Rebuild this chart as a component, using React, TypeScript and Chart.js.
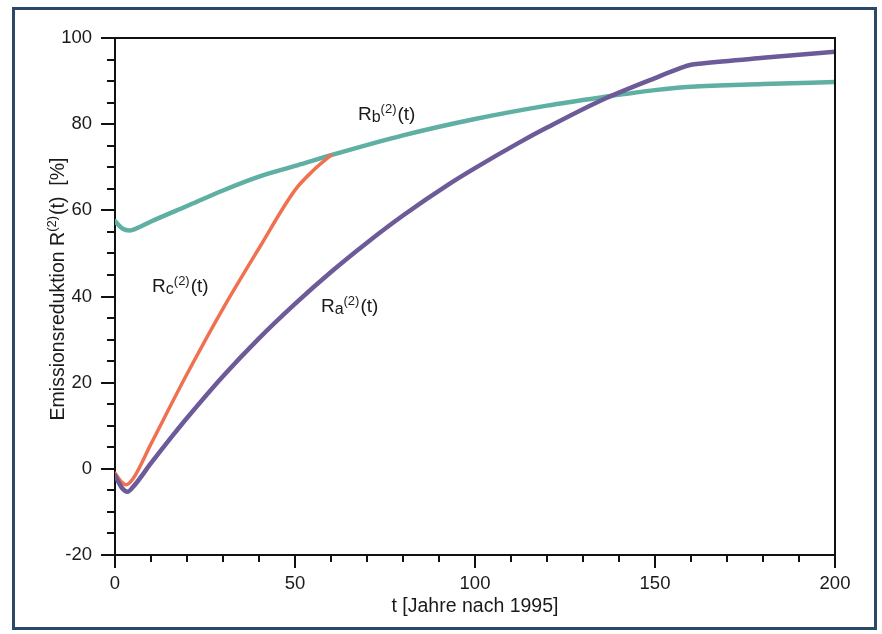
import { useEffect, useRef } from 'react';
import { Chart, registerables } from 'chart.js';
Chart.register(...registerables);

// Ra(2)(t) – purple
const tA = [0, 2, 3.5, 5, 10, 16, 20, 30, 40, 50, 60, 70, 80, 93, 100, 112, 120, 135, 150, 157, 160, 163, 180, 200];
const rA = [-1.5, -4.5, -5.3, -4.2, 1.3, 7.7, 11.8, 21.5, 30.3, 38.3, 45.7, 52.5, 58.8, 66.2, 69.8, 75.6, 79.2, 85.5, 90.7, 93.0, 93.8, 94.1, 95.4, 96.8];
// Rb(2)(t) – teal
const tB = [0, 2, 4, 7, 10, 20, 30, 40, 50, 60, 80, 100, 120, 135, 150, 160, 180, 200];
const rB = [57.5, 55.8, 55.3, 56.2, 57.4, 61, 64.6, 67.8, 70.3, 72.8, 77.4, 81.2, 84.3, 86.2, 87.9, 88.7, 89.3, 89.8];
// Rc(2)(t) – orange
const tC = [0, 2, 3, 5, 10, 20, 30, 40, 50, 55, 60];
const rC = [-1, -3.2, -3.7, -2.3, 5.8, 22, 37.2, 51.2, 64.7, 69.2, 72.8];

const xTickLabels = [0, 50, 100, 150, 200];
const yTickLabels = [-20, 0, 20, 40, 60, 80, 100];

const seriesLabels = [
  { base: 'R', sub: 'b', t: 67.5, v: 81 },
  { base: 'R', sub: 'c', t: 10.3, v: 41 },
  { base: 'R', sub: 'a', t: 57.2, v: 36.4 },
];

const FONT = '"Liberation Sans", Arial, sans-serif';

const pts = (t: number[], r: number[]) => t.map((x, i) => ({ x, y: r[i] }));

export default function App() {
  const ref = useRef<HTMLCanvasElement>(null);
  useEffect(() => {
    document.body.style.margin = '0';
    const deco = {
      id: 'deco',
      beforeDraw(chart: any) {
        const c = chart.ctx;
        c.save();
        c.fillStyle = '#ffffff';
        c.fillRect(0, 0, chart.width, chart.height);
        c.restore();
      },
      afterDraw(chart: any) {
        const c = chart.ctx;
        const a = chart.chartArea;
        const xs = chart.scales.x;
        const ys = chart.scales.y;
        c.save();
        c.strokeStyle = '#111';
        c.lineWidth = 2;
        c.beginPath();
        c.moveTo(a.left, a.top);
        c.lineTo(a.right, a.top);
        c.lineTo(a.right, a.bottom);
        c.stroke();
        // ticks
        c.lineWidth = 2;
        for (let v = -20; v <= 100; v += 5) {
          const py = Math.round(ys.getPixelForValue(v));
          const len = v % 20 === 0 ? 14 : 8;
          c.beginPath();
          c.moveTo(a.left - len, py);
          c.lineTo(a.left, py);
          c.stroke();
        }
        for (let v = 0; v <= 200; v += 10) {
          const px = Math.round(xs.getPixelForValue(v));
          const len = v % 50 === 0 ? 13 : 7;
          c.beginPath();
          c.moveTo(px, a.bottom);
          c.lineTo(px, a.bottom + len);
          c.stroke();
        }
        // series labels
        c.fillStyle = '#1a1a1a';
        c.textBaseline = 'alphabetic';
        c.textAlign = 'left';
        for (const l of seriesLabels) {
          let x = xs.getPixelForValue(l.t);
          const y = ys.getPixelForValue(l.v);
          c.font = `19px ${FONT}`;
          c.fillText(l.base, x, y);
          x += c.measureText(l.base).width;
          c.font = `16px ${FONT}`;
          c.fillText(l.sub, x, y + 2);
          x += c.measureText(l.sub).width;
          c.font = `13px ${FONT}`;
          c.fillText('(2)', x, y - 7);
          x += c.measureText('(2)').width + 1;
          c.font = `19px ${FONT}`;
          c.fillText('(t)', x, y);
        }
        // x title
        c.textAlign = 'center';
        c.font = `19.5px ${FONT}`;
        c.fillText('t [Jahre nach 1995]', (a.left + a.right) / 2, 612);
        // y title rotated
        c.save();
        c.translate(64, 289);
        c.rotate(-Math.PI / 2);
        const p1 = 'Emissionsreduktion R';
        const p2 = '(2)';
        const p3 = '(t)  [%]';
        c.font = `19.5px ${FONT}`;
        const w1 = c.measureText(p1).width;
        const w3 = c.measureText(p3).width;
        c.font = `13px ${FONT}`;
        const w2 = c.measureText(p2).width;
        let x = -(w1 + w2 + w3 + 1) / 2;
        c.textAlign = 'left';
        c.font = `19.5px ${FONT}`;
        c.fillText(p1, x, 0);
        x += w1;
        c.font = `13px ${FONT}`;
        c.fillText(p2, x, -8);
        x += w2 + 1;
        c.font = `19.5px ${FONT}`;
        c.fillText(p3, x, 0);
        c.restore();
        // frame
        c.strokeStyle = '#2a4868';
        c.lineWidth = 3;
        c.strokeRect(13.5, 8.5, 862, 620);
        c.restore();
      },
    };
    const chart = new Chart(ref.current!, {
      type: 'line',
      data: {
        datasets: [
          { label: 'Ra', data: pts(tA, rA), borderColor: '#6c5b98', borderWidth: 4.5, order: 0 },
          { label: 'Rc', data: pts(tC, rC), borderColor: '#f0714f', borderWidth: 3.5, order: 1 },
          { label: 'Rb', data: pts(tB, rB), borderColor: '#5fb0a3', borderWidth: 4.5, order: 2 },
        ],
      },
      options: {
        responsive: false,
        animation: false,
        devicePixelRatio: 1,
        parsing: false as any,
        elements: { point: { radius: 0 }, line: { cubicInterpolationMode: 'monotone', borderCapStyle: 'round', borderJoinStyle: 'round' } },
        layout: { padding: { left: 0, right: 47, top: 38, bottom: 0 } },
        plugins: { legend: { display: false }, tooltip: { enabled: false } },
        scales: {
          x: {
            type: 'linear',
            min: 0,
            max: 200,
            grid: { display: false },
            border: { display: true, color: '#111', width: 2 },
            ticks: {
              stepSize: 10,
              autoSkip: false,
              maxRotation: 0,
              padding: 10,
              color: '#1a1a1a',
              font: { family: FONT, size: 18.5 },
              callback: (v: any) => (xTickLabels.includes(Number(v)) ? String(v) : ''),
            },
            afterFit: (s: any) => { s.height = 79; },
          },
          y: {
            type: 'linear',
            min: -20,
            max: 100,
            grid: { display: false },
            border: { display: true, color: '#111', width: 2 },
            ticks: {
              stepSize: 5,
              autoSkip: false,
              padding: 15,
              color: '#1a1a1a',
              font: { family: FONT, size: 18.5 },
              callback: (v: any) => (yTickLabels.includes(Number(v)) ? String(v) : ''),
            },
            afterFit: (s: any) => { s.width = 115; },
          },
        },
      },
      plugins: [deco],
    });
    return () => chart.destroy();
  }, []);
  return (
    <div style={{ width: 882, height: 634 }}>
      <canvas ref={ref} width={882} height={634} style={{ display: 'block' }} />
    </div>
  );
}
